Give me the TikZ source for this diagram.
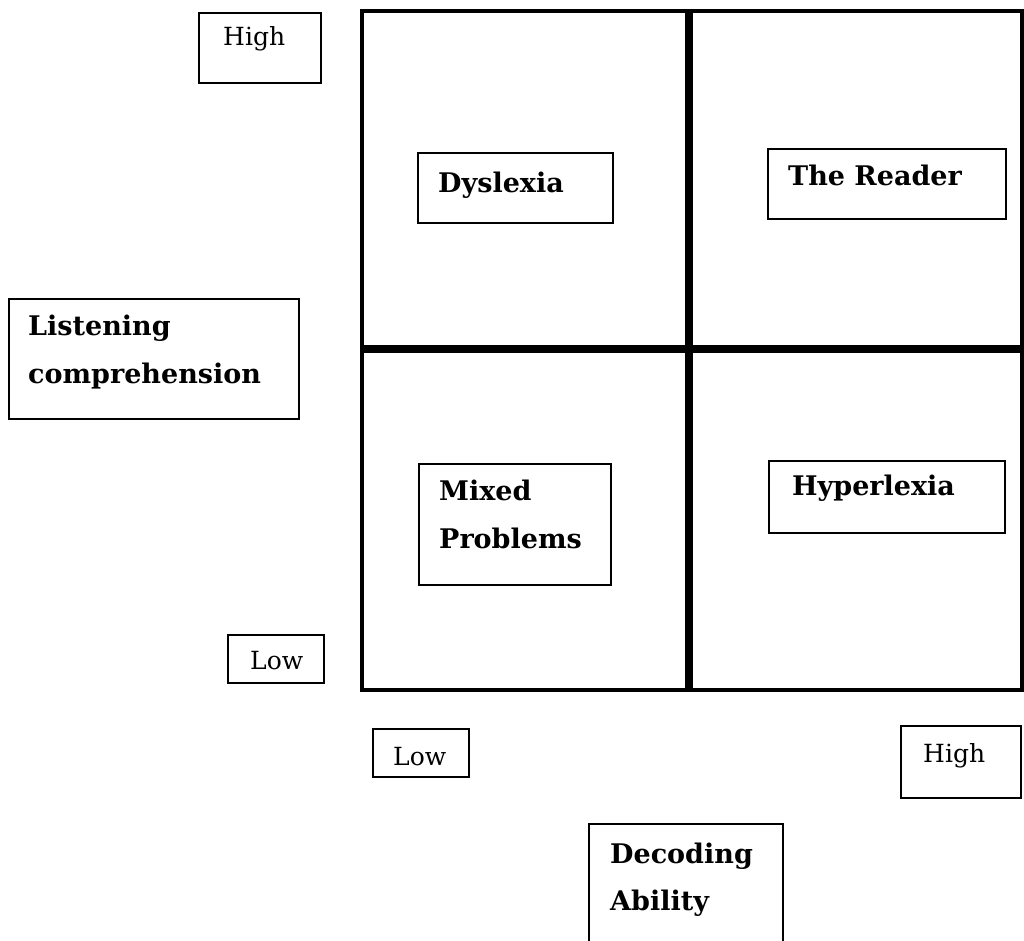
\documentclass[tikz,border=0pt]{standalone}
\usepackage{fontspec}
\setmainfont{DejaVu Serif}
\begin{document}
\begin{tikzpicture}[x=1pt,y=-1pt,
  boxn/.style={draw, line width=1.8pt, inner sep=0pt, anchor=north west},
  bold/.style={inner sep=0pt, anchor=base west, font=\fontsize{27}{27}\selectfont\bfseries},
  reg/.style={inner sep=0pt, anchor=base west, font=\fontsize{25}{25}\selectfont},
  outer/.style={line width=3.2pt},
  divider/.style={line width=7.5pt}]
\useasboundingbox[fill=white] (0,0) rectangle (1024,940);
% grid
\coordinate (tl) at (362,11);
\coordinate (br) at (1022,690);
\coordinate (vt) at (689,11);
\coordinate (vb) at (689,690);
\coordinate (hl) at (362,349);
\coordinate (hr) at (1024,349);
\draw[outer] (tl) rectangle (br);
\draw[divider] (vt) -- (vb);
\draw[divider] (hl) -- (hr);
% boxes
\node[boxn, minimum width=122pt, minimum height=70pt] (highLbox) at (198,12) {};
\node[reg] (highL) at (223,45) {High};
\node[boxn, minimum width=290pt, minimum height=120pt] (lcbox) at (8,298) {};
\node[bold] (lc1) at (28,335) {Listening};
\node[bold] (lc2) at (28,383) {comprehension};
\node[boxn, minimum width=96pt, minimum height=48pt] (lowLbox) at (227,634) {};
\node[reg] (lowL) at (250,669) {Low};
\node[boxn, minimum width=195pt, minimum height=70pt] (dysbox) at (417,152) {};
\node[bold] (dys) at (438,192) {Dyslexia};
\node[boxn, minimum width=238pt, minimum height=70pt] (readbox) at (767,148) {};
\node[bold] (read) at (788,185) {The Reader};
\node[boxn, minimum width=192pt, minimum height=121pt] (mixbox) at (418,463) {};
\node[bold] (mix1) at (439,500) {Mixed};
\node[bold] (mix2) at (439,548) {Problems};
\node[boxn, minimum width=236pt, minimum height=72pt] (hypbox) at (768,460) {};
\node[bold] (hyp) at (792,495) {Hyperlexia};
\node[boxn, minimum width=96pt, minimum height=48pt] (lowBbox) at (372,728) {};
\node[reg] (lowB) at (393,765) {Low};
\node[boxn, minimum width=120pt, minimum height=72pt] (highBbox) at (900,725) {};
\node[reg] (highB) at (923,762) {High};
\node[boxn, minimum width=194pt, minimum height=140pt] (decbox) at (588,823) {};
\node[bold] (dec1) at (610,863) {Decoding};
\node[bold] (dec2) at (610,910) {Ability};
\end{tikzpicture}
\end{document}
